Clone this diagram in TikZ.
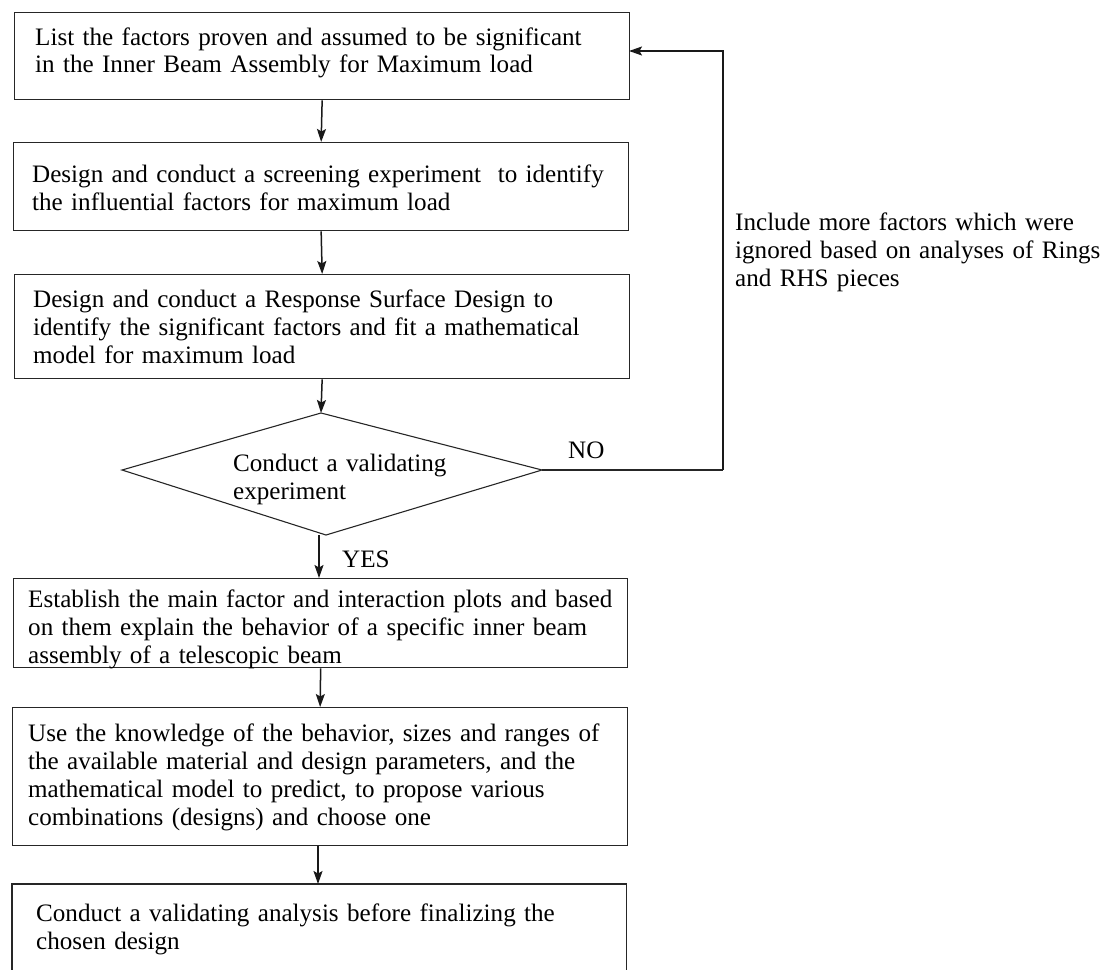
\documentclass[tikz,border=0pt]{standalone}
\usepackage{fontspec}
\setmainfont{Liberation Serif}
\usetikzlibrary{arrows.meta}
\begin{document}
\begin{tikzpicture}[x=1pt,y=-1pt,
  box/.style={draw=black!85, line width=1.3pt, inner sep=0pt, anchor=north west},
  openbox/.style={inner sep=0pt, anchor=north west},
  txt/.style={anchor=base west, inner sep=0pt, font=\fontsize{25.1}{28}\selectfont, align=left, text width=#1},
  txt/.default=640pt,
  arr/.style={line width=1.5pt, draw=black!90, -{Stealth[length=13pt,width=9pt,inset=2.5pt]}},
  conn/.style={line width=1.2pt, draw=black!85}]
\useasboundingbox (0,0) rectangle (1108,969);

% boxes
\node[box, minimum width=615pt, minimum height=87pt]  (b1) at (14,12)  {};
\node[box, minimum width=615pt, minimum height=88pt]  (b2) at (13,142) {};
\node[box, minimum width=615pt, minimum height=104pt] (b3) at (14,274) {};
\node[box, minimum width=614pt, minimum height=89pt]  (b4) at (13,578) {};
\node[box, minimum width=615pt, minimum height=138pt] (b5) at (12,707) {};
\node[openbox, minimum width=614pt, minimum height=86pt] (b6) at (12,884) {};
\draw[conn] (b6.south west) -- (b6.north west) -- (b6.north east) -- (b6.south east);

% decision
\coordinate (dT) at (321,413);
\coordinate (dL) at (122,470);
\coordinate (dB) at (326,535);
\coordinate (dR) at (542,470);
\draw[line width=1.1pt, draw=black!85] (dT) -- (dR) -- (dB) -- (dL) -- cycle;

% texts
\node[txt] (t1) at (35,45) {List the factors proven and assumed to be significant\\in the Inner Beam Assembly for Maximum load};
\node[txt] (t2) at (32,182) {Design and conduct a screening experiment \ to identify\\the influential factors for maximum load};
\node[txt] (t3) at (33,307) {Design and conduct a Response Surface Design to\\identify the significant factors and fit a mathematical\\model for maximum load};
\node[txt=300pt] (td) at (233,471) {Conduct a validating\\experiment};
\node[txt] (t4) at (28,607) {Establish the main factor and interaction plots and based\\on them explain the behavior of a specific inner beam\\assembly of a telescopic beam};
\node[txt] (t5) at (28,741) {Use the knowledge of the behavior, sizes and ranges of\\the available material and design parameters, and the\\mathematical model to predict, to propose various\\combinations (designs) and choose one};
\node[txt] (t6) at (36,921) {Conduct a validating analysis before finalizing the\\chosen design};
\node[txt=370pt] (ts) at (735,230) {Include more factors which were\\ignored based on analyses of Rings\\and RHS pieces};
\node[txt=60pt] (no) at (568,458) {NO};
\node[txt=60pt] (yes) at (342,567) {YES};

% connectors
\coordinate (fb) at (723,470);
\coordinate (b1in) at (629,51);
\draw[arr] (b1.south) -- (b2.north);
\draw[arr] (b2.south) -- (b3.north);
\draw[arr] (b3.south) -- (dT);
\draw[arr] (dB -| 319,0) -- (b4.north -| 319,0);
\draw[arr] (b4.south) -- (b5.north);
\draw[arr] (b5.south -| 318,0) -- (b6.north -| 318,0);
\draw[conn] (dR) -- (fb);
\draw[arr] (fb) |- (b1in);
\end{tikzpicture}
\end{document}
